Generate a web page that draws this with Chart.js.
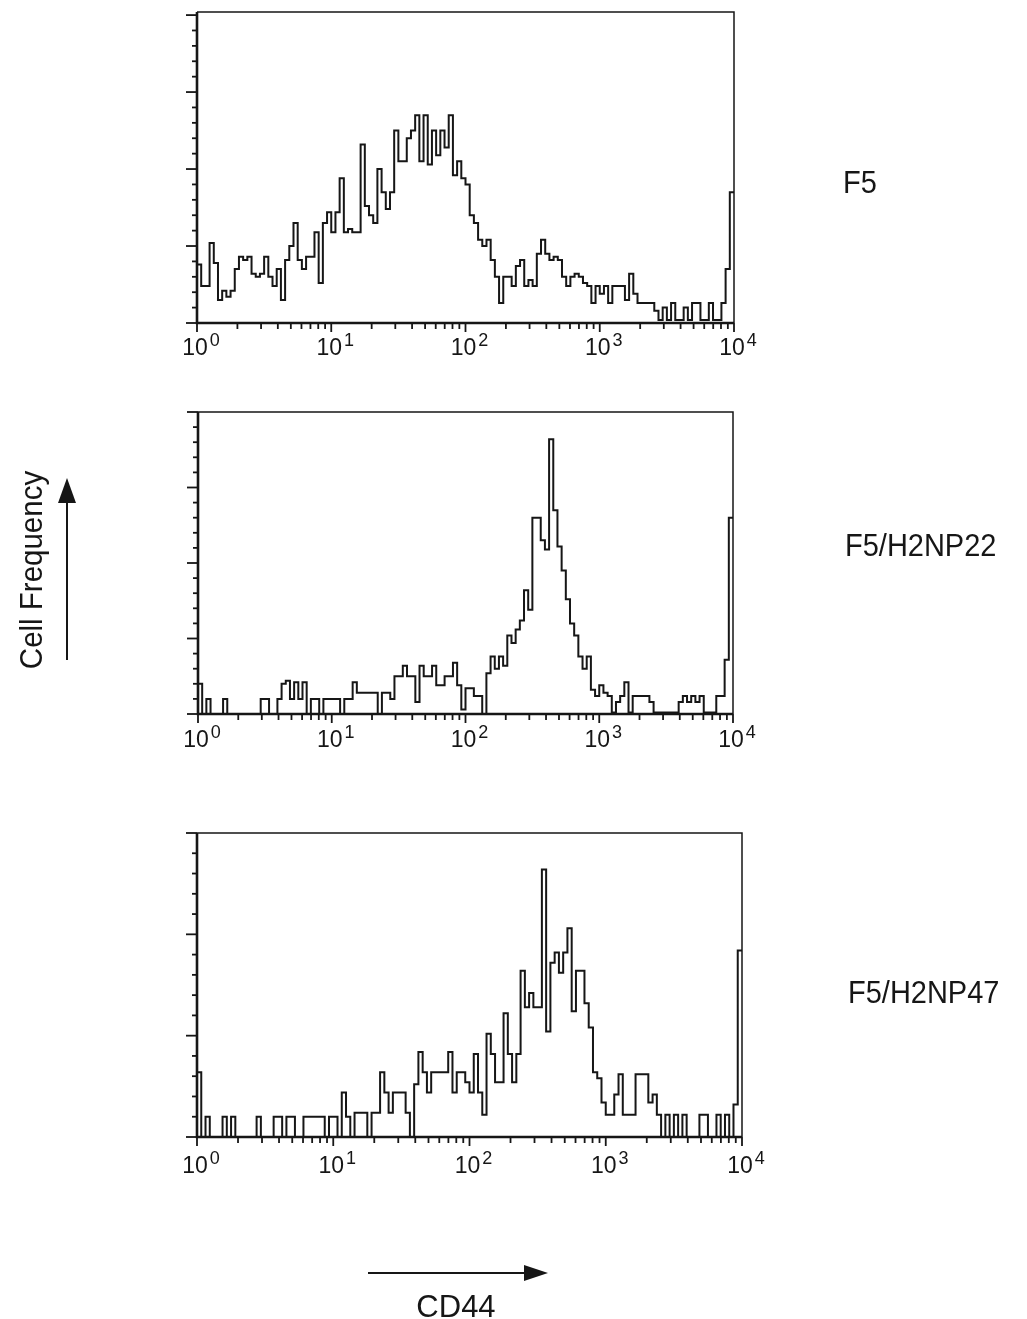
<!DOCTYPE html>
<html>
<head>
<meta charset="utf-8">
<script src="https://cdn.jsdelivr.net/npm/chart.js@4.4.0/dist/chart.umd.min.js"></script>
<style>
  body { margin: 0; background: #fff; }
  #page { position: relative; width: 1027px; height: 1319px; overflow: hidden; background: #fff; }
  #page canvas { position: absolute; left: 0; }
  #overlay { position: absolute; left: 0; top: 0; }
  #overlay text { font-family: "Liberation Sans", Arial, Helvetica, sans-serif; fill: #161616; }
</style>
</head>
<body>
<div id="page">
  <canvas id="histF5" width="800" height="380" style="top:0px"></canvas>
  <canvas id="histNP22" width="800" height="380" style="top:390px"></canvas>
  <canvas id="histNP47" width="800" height="400" style="top:800px"></canvas>

  <svg id="overlay" width="1027" height="1319">
    <!-- sample labels -->
    <text transform="translate(843,193) scale(1,1.1)" font-size="29">F5</text>
    <text transform="translate(845,556) scale(1,1.1)" font-size="29">F5/H2NP22</text>
    <text transform="translate(848,1003) scale(1,1.1)" font-size="29">F5/H2NP47</text>

    <!-- y axis title + arrow -->
    <text transform="translate(42,570) rotate(-90) scale(1,1.08)" font-size="29.5" text-anchor="middle">Cell Frequency</text>
    <line x1="67" y1="660" x2="67" y2="500" stroke="#161616" stroke-width="2"/>
    <polygon points="67,478 58,503 76,503" fill="#161616"/>

    <!-- x axis title + arrow -->
    <line x1="368" y1="1273" x2="527" y2="1273" stroke="#161616" stroke-width="2"/>
    <polygon points="548,1273 524,1265 524,1281" fill="#161616"/>
    <text x="456" y="1317" font-size="31" text-anchor="middle">CD44</text>
  </svg>
</div>

<script>
// CD44 histograms, 128 log channels (32 per decade), value per channel
const decadeExponents = ['0', '1', '2', '3', '4'];
const CH_PER_DECADE = 32;

const f5Counts = [
  112, 38, 24, 24, 52, 39, 15, 21, 17, 21,
  35, 43, 41, 43, 32, 30, 32, 43, 30, 24,
  35, 15, 41, 50, 65, 41, 35, 43, 43, 59,
  26, 65, 72, 59, 72, 94, 59, 61, 59, 59,
  116, 76, 70, 65, 100, 85, 74, 85, 125, 105,
  105, 120, 125, 135, 105, 135, 103, 125, 109, 125,
  114, 135, 96, 105, 94, 90, 70, 65, 54, 50,
  54, 41, 30, 13, 30, 30, 24, 37, 41, 24,
  28, 24, 45, 54, 45, 41, 43, 41, 30, 24,
  30, 32, 30, 26, 24, 13, 24, 19, 24, 13,
  24, 24, 24, 15, 32, 19, 13, 13, 13, 13,
  8, 2, 10, 2, 13, 2, 2, 10, 2, 13,
  13, 2, 2, 13, 2, 2, 13, 35, 85
];

const np22Counts = [
  43, 20, 0, 10, 0, 0, 0, 10, 0, 0,
  0, 0, 0, 0, 0, 0, 10, 10, 0, 0,
  10, 20, 22, 10, 21, 10, 21, 0, 10, 10,
  0, 10, 10, 10, 10, 0, 10, 10, 21, 14,
  14, 14, 14, 14, 0, 14, 14, 10, 25, 25,
  32, 25, 25, 8, 32, 25, 25, 32, 19, 19,
  25, 25, 34, 19, 3, 17, 17, 12, 12, 0,
  27, 38, 30, 38, 32, 52, 47, 56, 62, 82,
  69, 130, 130, 115, 109, 182, 135, 111, 95, 76,
  60, 52, 38, 30, 38, 16, 12, 19, 14, 12,
  1, 8, 12, 21, 1, 12, 12, 12, 12, 8,
  1, 1, 1, 1, 1, 1, 8, 12, 8, 12,
  8, 12, 1, 1, 1, 12, 12, 36, 130
];

const np47Counts = [
  62, 32, 0, 10, 0, 0, 0, 10, 0, 10,
  0, 0, 0, 0, 0, 10, 0, 0, 0, 10,
  10, 0, 10, 10, 0, 0, 10, 10, 10, 10,
  10, 0, 10, 10, 0, 22, 10, 0, 12, 12,
  12, 0, 12, 12, 32, 22, 12, 22, 22, 22,
  12, 0, 26, 42, 32, 22, 32, 32, 32, 32,
  42, 22, 32, 32, 27, 22, 41, 22, 11, 51,
  41, 27, 27, 61, 41, 27, 41, 82, 64, 71,
  64, 64, 132, 52, 86, 91, 81, 91, 103, 62,
  82, 82, 66, 54, 32, 29, 17, 11, 11, 21,
  31, 11, 11, 11, 31, 31, 31, 17, 21, 11,
  0, 11, 0, 11, 0, 11, 0, 0, 0, 11,
  11, 0, 0, 11, 0, 11, 0, 16, 92
];

const INK = '#161616';
const TICK_FONT = '"Liberation Sans", Arial, Helvetica, sans-serif';

// box, ticks and 10^n labels drawn from the chart's own scales
const facsFrame = {
  id: 'facsFrame',
  afterDraw(chart, args, opts) {
    const { ctx, chartArea: a, scales: { x, y } } = chart;
    const seg = (x1, y1, x2, y2) => { ctx.beginPath(); ctx.moveTo(x1, y1); ctx.lineTo(x2, y2); ctx.stroke(); };
    ctx.save();
    ctx.strokeStyle = INK;
    ctx.fillStyle = INK;

    ctx.lineWidth = 1.5;
    ctx.beginPath();
    ctx.moveTo(a.left, a.top); ctx.lineTo(a.right, a.top); ctx.lineTo(a.right, a.bottom);
    ctx.stroke();
    ctx.lineWidth = 2.6;
    ctx.beginPath();
    ctx.moveTo(a.left, a.top); ctx.lineTo(a.left, a.bottom); ctx.lineTo(a.right, a.bottom);
    ctx.stroke();

    // y ticks, outside
    ctx.lineWidth = 1.8;
    for (let v = 0; v <= opts.yTop; v += opts.yMinor) {
      const py = y.getPixelForValue(v);
      seg(a.left - (v % opts.yMajor === 0 ? 11 : 5), py, a.left, py);
    }

    // x ticks, log minors + decades
    for (let d = 0; d < decadeExponents.length - 1; d++) {
      for (let k = 2; k <= 9; k++) {
        const px = x.getPixelForValue(CH_PER_DECADE * (d + Math.log10(k)));
        seg(px, a.bottom, px, a.bottom + 6);
      }
    }
    decadeExponents.forEach((e, d) => {
      const px = x.getPixelForValue(d * CH_PER_DECADE);
      seg(px, a.bottom, px, a.bottom + 9);
      ctx.font = '23px ' + TICK_FONT;
      ctx.textAlign = 'left';
      ctx.textBaseline = 'alphabetic';
      const w = ctx.measureText('10').width;
      ctx.fillText('10', px - w / 2 - 2, a.bottom + opts.labelGap);
      ctx.font = '18px ' + TICK_FONT;
      ctx.fillText(e, px + w / 2, a.bottom + opts.labelGap - 9);
    });
    ctx.restore();
  }
};

function chartHist(canvasId, counts, yMax, yTop, padding, labelGap) {
  const ctx = document.querySelector('#' + canvasId).getContext('2d');
  return new Chart(ctx, {
    type: 'line',
    data: {
      datasets: [{
        data: counts.map((c, i) => ({ x: i, y: c })),
        stepped: 'after',
        borderColor: INK,
        borderWidth: 2,
        pointRadius: 0,
        fill: false,
        clip: false
      }]
    },
    options: {
      responsive: false,
      animation: false,
      events: [],
      layout: { padding: padding },
      scales: {
        x: { type: 'linear', min: 0, max: CH_PER_DECADE * 4, display: false },
        y: { type: 'linear', min: 0, max: yMax, display: false }
      },
      plugins: {
        legend: { display: false },
        tooltip: { enabled: false },
        facsFrame: { yTop: yTop, yMinor: 10, yMajor: 50, labelGap: labelGap }
      }
    },
    plugins: [facsFrame]
  });
}

chartHist('histF5', f5Counts, 202, 200, { left: 197, right: 66, top: 12, bottom: 57 }, 32);
chartHist('histNP22', np22Counts, 200, 200, { left: 198, right: 67, top: 22, bottom: 56 }, 33);
chartHist('histNP47', np47Counts, 150, 150, { left: 197, right: 58, top: 33, bottom: 63 }, 36);
</script>
</body>
</html>
